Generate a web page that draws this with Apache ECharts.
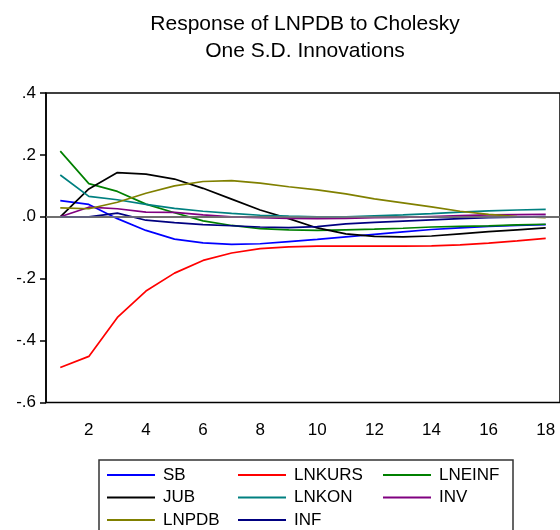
<!DOCTYPE html>
<html>
<head>
<meta charset="utf-8">
<script src="https://cdn.jsdelivr.net/npm/echarts@6/dist/echarts.min.js"></script>
<style>
html,body{margin:0;padding:0;background:#fff;}
#chart{width:560px;height:530px;}
</style>
</head>
<body>
<div id="chart"></div>
<script>
var periods = ['1','2','3','4','5','6','7','8','9','10','11','12','13','14','15','16','17','18'];
var yTicks = {'0.4':'.4','0.2':'.2','0':'.0','-0.2':'-.2','-0.4':'-.4','-0.6':'-.6'};

var SB     = [0.052, 0.040, -0.006, -0.044, -0.072, -0.084, -0.089, -0.087, -0.080, -0.073, -0.065, -0.057, -0.049, -0.041, -0.036, -0.031, -0.028, -0.025];
var LNKURS = [-0.487, -0.451, -0.325, -0.240, -0.182, -0.141, -0.117, -0.103, -0.097, -0.095, -0.095, -0.095, -0.095, -0.094, -0.091, -0.085, -0.078, -0.070];
var LNEINF = [0.212, 0.107, 0.082, 0.041, 0.013, -0.013, -0.028, -0.038, -0.042, -0.044, -0.042, -0.040, -0.037, -0.033, -0.031, -0.029, -0.026, -0.024];
var JUB    = [0.000, 0.090, 0.143, 0.138, 0.122, 0.092, 0.057, 0.022, -0.006, -0.036, -0.055, -0.063, -0.065, -0.062, -0.055, -0.048, -0.042, -0.036];
var LNKON  = [0.135, 0.066, 0.055, 0.040, 0.027, 0.018, 0.011, 0.005, 0.002, 0.000, 0.000, 0.003, 0.006, 0.010, 0.015, 0.019, 0.022, 0.024];
var INV    = [0.000, 0.031, 0.026, 0.015, 0.014, 0.006, 0.000, -0.003, -0.005, -0.006, -0.005, -0.003, -0.002, 0.001, 0.004, 0.006, 0.007, 0.008];
var LNPDB  = [0.029, 0.026, 0.047, 0.076, 0.100, 0.114, 0.117, 0.109, 0.097, 0.087, 0.074, 0.058, 0.045, 0.032, 0.018, 0.008, 0.001, -0.003];
var INF    = [0.000, 0.000, 0.012, -0.011, -0.019, -0.025, -0.029, -0.033, -0.035, -0.032, -0.023, -0.018, -0.014, -0.010, -0.006, -0.003, -0.001, 0.001];

var FONT = 'Liberation Sans, Arial, Helvetica, sans-serif';

function mk(name, data, color, extra) {
  var s = {
    name: name, type: 'line', data: data, symbol: 'none', smooth: false,
    lineStyle: {color: color, width: 1.7}, itemStyle: {color: color},
    emphasis: {disabled: true}, animation: false
  };
  if (extra) for (var k in extra) s[k] = extra[k];
  return s;
}

var legendCommon = {
  orient: 'vertical', icon: 'rect', itemWidth: 48, itemHeight: 2,
  itemGap: 2.5, padding: 0, selectedMode: false, top: 465,
  textStyle: {fontFamily: FONT, fontSize: 17, color: '#000', lineHeight: 20, padding: [0,0,0,3]}
};
function lg(left, data) {
  var o = {}; for (var k in legendCommon) o[k] = legendCommon[k];
  o.left = left; o.data = data; return o;
}

var chart = echarts.init(document.getElementById('chart'), null, {renderer: 'canvas'});
chart.setOption({
  animation: false,
  backgroundColor: '#fff',
  title: {
    text: 'Response of LNPDB to Cholesky\nOne S.D. Innovations',
    left: 305, top: 11, textAlign: 'center', padding: 0,
    textStyle: {fontFamily: FONT, fontSize: 21, fontWeight: 'normal', color: '#000', lineHeight: 27}
  },
  grid: {left: 46, top: 93, width: 517.5, height: 309.5, show: true, borderColor: '#000', borderWidth: 1.5, containLabel: false},
  legend: [
    lg(107, ['SB', 'JUB', 'LNPDB']),
    lg(238, ['LNKURS', 'LNKON', 'INF']),
    lg(383, ['LNEINF', 'INV'])
  ],
  graphic: [{
    type: 'rect', shape: {x: 99, y: 460, width: 414, height: 100},
    style: {fill: 'none', stroke: '#333', lineWidth: 1.5}, silent: true, z: 0
  }],
  xAxis: {
    type: 'category', data: periods, boundaryGap: true,
    axisLine: {lineStyle: {color: '#000', width: 1.5}},
    axisTick: {interval: 0, length: 7, inside: false, lineStyle: {color: '#000', width: 1.5}},
    axisLabel: {interval: function (i, v) { return Number(v) % 2 === 0; }, margin: 19, fontFamily: FONT, fontSize: 17, color: '#000'},
    splitLine: {show: false}
  },
  yAxis: {
    type: 'value', min: -0.6, max: 0.4, interval: 0.2,
    axisLine: {show: true, lineStyle: {color: '#000', width: 1.5}},
    axisTick: {show: true, length: 6, lineStyle: {color: '#000', width: 1.5}},
    axisLabel: {margin: 10, fontFamily: FONT, fontSize: 17, color: '#000',
      formatter: function (v) { return yTicks[String(Math.round(v * 10) / 10)] || ''; }},
    splitLine: {show: false}
  },
  series: [
    mk('SB', SB, '#0000ff', {markLine: {silent: true, symbol: ['none', 'none'], label: {show: false},
      lineStyle: {color: '#808080', width: 1.5, type: 'solid'}, data: [{yAxis: 0}], animation: false}}),
    mk('LNKURS', LNKURS, '#ff0000'),
    mk('LNEINF', LNEINF, '#008000'),
    mk('JUB', JUB, '#000000'),
    mk('LNKON', LNKON, '#008080'),
    mk('INV', INV, '#800080'),
    mk('LNPDB', LNPDB, '#808000'),
    mk('INF', INF, '#000080')
  ]
});
</script>
</body>
</html>
